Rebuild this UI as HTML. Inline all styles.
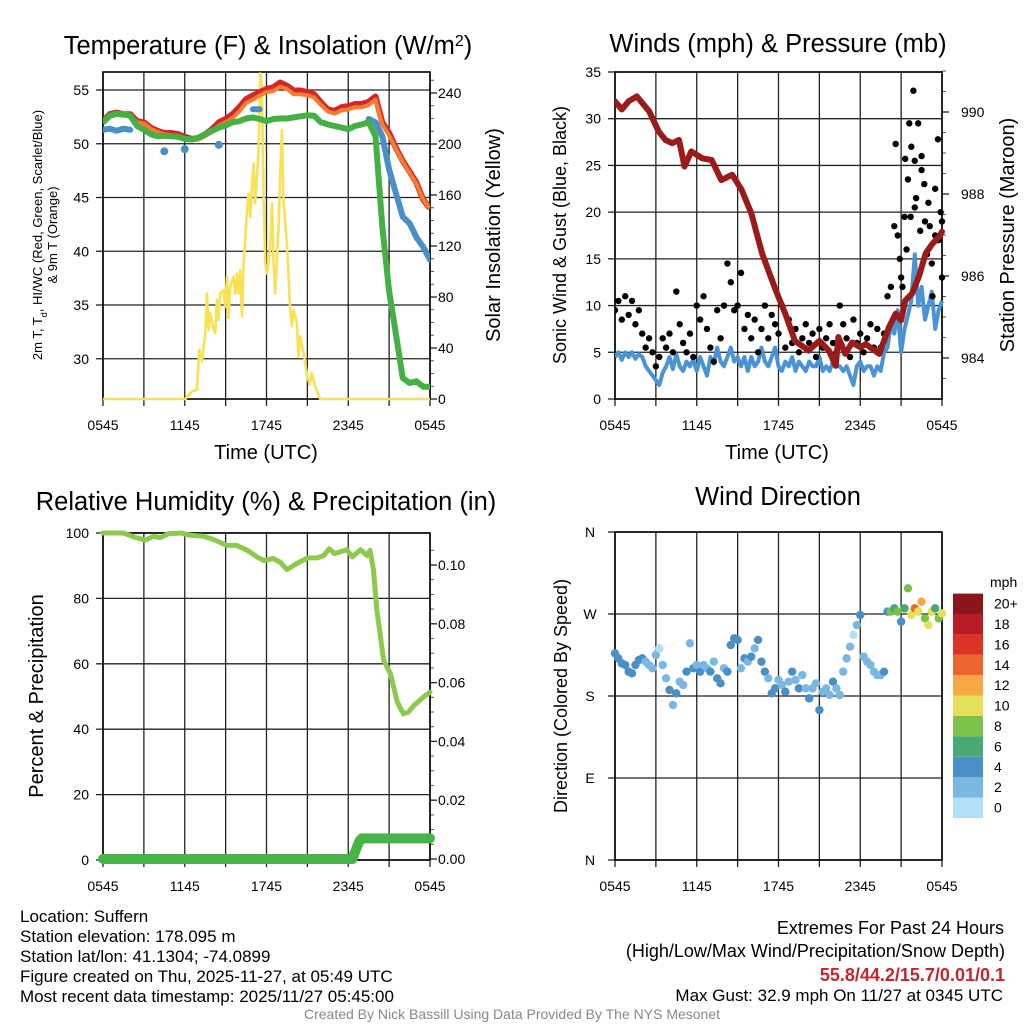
<!DOCTYPE html>
<html><head><meta charset="utf-8"><style>
html,body{margin:0;padding:0;background:#fff;}
svg{display:block;font-family:"Liberation Sans",Arial,sans-serif;}
</style></head><body>
<svg id="chart" width="1024" height="1024" viewBox="0 0 1024 1024">
<rect width="1024" height="1024" fill="#fff"/>
<text x="268" y="54" font-size="25.5" text-anchor="middle">Temperature (F) &amp; Insolation (W/m<tspan baseline-shift="super" font-size="16">2</tspan>)</text>
<text x="778" y="52" font-size="25.5" text-anchor="middle">Winds (mph) &amp; Pressure (mb)</text>
<text x="266" y="510" font-size="25.5" text-anchor="middle">Relative Humidity (%) &amp; Precipitation (in)</text>
<text x="778" y="505" font-size="25.5" text-anchor="middle">Wind Direction</text>
<text x="266" y="459" font-size="20" text-anchor="middle">Time (UTC)</text>
<text x="777" y="459" font-size="20" text-anchor="middle">Time (UTC)</text>
<g font-size="13" text-anchor="middle">
<text transform="translate(42,235) rotate(-90)">2m T, T<tspan font-size="9" baseline-shift="sub">d</tspan>, HI/WC (Red, Green, Scarlet/Blue)</text>
<text transform="translate(57,235) rotate(-90)">&amp; 9m T (Orange)</text>
</g>
<text transform="translate(500,235) rotate(-90)" font-size="20" text-anchor="middle">Solar Insolation (Yellow)</text>
<text transform="translate(566,235) rotate(-90)" font-size="18" text-anchor="middle">Sonic Wind &amp; Gust (Blue, Black)</text>
<text transform="translate(1014,235) rotate(-90)" font-size="20" text-anchor="middle">Station Pressure (Maroon)</text>
<text transform="translate(43,696) rotate(-90)" font-size="20" text-anchor="middle">Percent &amp; Precipitation</text>
<text transform="translate(567,696) rotate(-90)" font-size="18" text-anchor="middle">Direction (Colored By Speed)</text>
<text x="990" y="587" font-size="14">mph</text>
<g font-size="17">
<text x="20" y="922">Location: Suffern</text>
<text x="20" y="942">Station elevation: 178.095 m</text>
<text x="20" y="962">Station lat/lon: 41.1304; -74.0899</text>
<text x="20" y="982">Figure created on Thu, 2025-11-27, at 05:49 UTC</text>
<text x="20" y="1002">Most recent data timestamp: 2025/11/27 05:45:00</text>
</g>
<g font-size="18" text-anchor="end">
<text x="1004" y="934">Extremes For Past 24 Hours</text>
<text x="1005" y="957">(High/Low/Max Wind/Precipitation/Snow Depth)</text>
<text x="1005" y="981" font-weight="bold" fill="#c0282d">55.8/44.2/15.7/0.01/0.1</text>
<text x="1003" y="1001" font-size="17">Max Gust: 32.9 mph On 11/27 at 0345 UTC</text>
</g>
<text x="512" y="1019" font-size="14" fill="#888" text-anchor="middle">Created By Nick Bassill Using Data Provided By The NYS Mesonet</text>
</svg>
<script>
// ---------- data ----------
const hoursHalf = [0,0.5,1,1.5,2,2.5,3,3.5,4,4.5,5,5.5,6,6.5,7,7.5,8,8.5,9,9.5,10,10.5,11,11.5,12,12.5,13,13.5,14,14.5,15,15.5,16,16.5,17,17.5,18,18.5,19,19.5,20,20.5,21,21.5,22,22.5,23,23.5,24];
const tempRed = [52.1,52.75,52.9,52.75,52.75,52.1,52.0,51.5,51.2,51.0,51.0,50.9,50.65,50.45,50.55,50.9,51.35,52.0,52.3,52.75,53.4,54.15,54.5,54.8,55.1,55.25,55.7,55.4,54.95,54.95,54.8,54.6,53.85,53.2,53.05,53.4,53.5,53.7,53.7,53.9,54.4,52.0,51.0,49.6,48.4,47.4,46.4,44.8,44.0];
const temp9m = [51.9,52.5,52.7,52.6,52.6,52.0,51.9,51.4,51.1,50.9,50.8,50.7,50.5,50.3,50.4,50.7,51.1,51.7,52.0,52.4,53.0,53.8,54.1,54.5,54.8,54.9,55.3,55.1,54.6,54.6,54.5,54.3,53.6,53.0,52.8,53.1,53.2,53.4,53.4,53.6,54.1,51.8,50.8,49.5,48.3,47.3,46.3,44.8,44.0];
const dewGreen = [52.0,52.6,52.8,52.75,52.6,51.65,51.3,50.9,50.7,50.75,50.7,50.65,50.45,50.4,50.55,50.9,51.2,51.5,51.7,52.0,52.1,52.35,52.45,52.3,52.1,52.3,52.35,52.35,52.45,52.55,52.65,52.6,52.0,51.8,51.65,51.5,51.35,51.65,51.8,52.0,50.7,42.3,36.3,32.3,28.2,27.75,27.9,27.4,27.4];
const windChill = [51.3,51.4,51.2,51.4,51.3,null,null,null,null,49.3,null,null,49.5,null,null,null,null,49.9,null,null,null,null,53.2,53.2,null,null,null,null,null,null,null,null,null,null,null,null,null,null,null,52.3,52.0,50.7,47.6,45.4,43.2,42.6,41.3,40.4,39.2];
const solarHours = [0,6.04,6.53,6.89,7.07,7.26,7.51,7.63,7.75,7.87,8.12,8.24,8.36,8.48,8.61,8.85,8.97,9.10,9.22,9.34,9.58,9.71,9.83,9.95,10.07,10.2,10.32,10.56,10.68,10.81,10.93,11.05,11.17,11.3,11.42,11.54,11.66,11.78,11.91,12.03,12.15,12.27,12.4,12.52,12.64,12.76,12.89,13.0,13.13,13.25,13.5,13.74,13.86,13.99,14.23,14.35,14.47,14.72,14.96,15.16,15.33,15.57,15.94,24];
const solarValues = [0,0,6,7.3,38.6,29.5,51.4,82.8,54.3,67.4,54.3,51.7,77.8,62.1,82.8,85.4,72.3,95.8,63.4,88.1,95.8,82.8,98.4,82.8,101,64.8,106.3,145.4,161,142.8,166.5,184.8,153.5,174.4,195.3,255.4,245,161.4,106.3,98.4,106.3,119.3,153.3,106.3,82.8,109,135,174.4,210.9,156.1,122.2,70,57,70,59.5,33.4,49.1,36,20.4,11.2,20.4,9.9,0,0];
const pressHours = [0,0.5,1,1.6,2.2,2.5,3.2,3.7,4.2,4.7,5.1,5.6,6.4,7.1,7.8,8.6,9.3,10,10.8,11.8,12.5,13.2,14.2,15,15.7,16.2,16.4,16.9,17.4,18,18.4,19.4,20.1,20.6,21,21.3,21.8,22.3,22.8,23.3,23.8,24];
const pressValues = [990.26,990.06,990.26,990.38,990.14,990.02,989.53,989.32,989.24,989.32,988.67,989.04,988.87,988.83,988.34,988.47,988.10,987.53,986.55,985.65,985.08,984.42,984.18,984.42,984.18,983.81,984.51,984.10,984.38,984.26,984.34,984.10,984.75,985.08,984.92,985.40,985.57,985.98,986.55,986.79,986.96,987.08];
const windSpeed = [4.5,5,4.2,5,4.5,5,4.3,4.8,4.5,3.5,3,2.5,2,1.5,2.8,3.5,4.5,3.2,4.8,3.5,3,4,3.5,4.2,3,4.5,3.5,2.5,4.5,3.8,5.5,4,3.5,4.5,5.5,4,4.5,3.5,4.5,3,4.5,3.5,4,5.5,4,3.5,4.5,5.5,3.5,3,4,3.5,4.5,3,4,3.5,3,4,3.5,3.5,4.5,3,3.5,3,4,3.5,3.5,3,3.5,2.5,1.5,3.5,4,3,3.5,3.5,2.5,3.5,3,5,5.5,8,7,9.5,5,7.5,9,10.5,15.5,10,12,8.5,10,11.5,7.5,9.5,10.5];
const windGust = [9.5,10.5,8.5,11,9,10.5,8,9.5,7,5.5,6.5,5,3.5,4.5,6.5,5.5,7,5,11.5,8,6,5,7,4.5,10,8.5,11,7.5,5.5,4,9.5,6.5,10,14.5,12.5,9.5,10,13.5,7.5,9,6.5,8.5,5,7.5,10,6.5,9,8,7,10,5.5,8.5,6,7.5,5,6.5,8,6,7,4.5,7.5,5.5,6.5,8,6,5,10,8,6.5,4.5,8.5,6,7,5,6.5,8,5.5,7.5,5.5,7,11,12,18.5,17.5,13,19.5,23.5,27,20.5,29.5,24.5,19,21,14.5,22.5,17,19];
const gustExtraHours = [20.6,20.9,21.1,21.3,21.4,21.6,21.7,21.9,22.0,22.1,22.4,22.5,22.7,22.9,23.1,23.3,23.5,23.7,23.9,24];
const gustExtraValues = [27.3,15,12,25.7,16,29.5,19.5,33,25.5,21.5,18,26,23,15.5,18.5,11,17.5,27.8,20,13];
const windDir = [226.8,221.3,215.8,214.0,206.7,204.9,214.0,219.5,221.3,217.7,214.0,210.4,225.0,232.3,214.0,199.4,186.6,170.1,182.9,195.7,192.1,206.7,237.8,210.4,214.0,206.7,214.0,210.4,206.7,217.7,199.4,193.9,210.4,206.7,236.0,243.3,241.5,210.4,221.3,217.7,223.2,232.3,241.5,217.7,206.7,199.4,182.9,188.4,197.6,192.1,184.7,195.7,206.7,197.6,188.4,203.0,188.4,177.4,188.4,193.9,164.6,184.7,188.4,181.1,195.7,188.4,181.1,206.7,221.3,234.1,247.0,257.9,268.9,223.2,217.7,214.0,206.7,203.0,203.0,206.7,272.6,272.6,276.2,272.6,261.6,276.2,298.2,268.9,276.2,272.6,283.5,265.2,257.9,272.6,276.2,265.2,270.7];
const rhHours = [0,1.5,2.25,3.1,3.7,4.2,4.8,5.7,6.4,7.4,8.1,9.1,9.8,10.6,11.3,11.8,12.5,13,13.5,14.2,15,15.7,16.2,16.6,17,17.9,18.3,18.9,19.4,19.6,19.85,20.1,20.6,21.1,21.6,22.05,22.4,22.8,23.5,24];
const rhValues = [100,100,98.8,97.8,99,98.6,99.8,100,99.3,99,98,96.2,96.2,94.7,92.7,91.6,92.2,91.1,88.8,90.6,92.4,92.4,93.1,95.2,93.7,94.9,92.7,94.9,93.1,94.7,88.6,76.3,61,56.9,48.3,44.7,45.2,47.2,49.8,51.3];
const precipHours = [0,18.3,18.8,19.0,24];
const precipValues = [0,0,0.006,0.007,0.007];
const xTickLabels = ['0545','1145','1745','2345','0545'];
const tempTicks = [30,35,40,45,50,55];
const solarTicks = [0,40,80,120,160,200,240];
const windTicks = [0,5,10,15,20,25,30,35];
const pressTicks = [984,986,988,990];
const rhTicks = [0,20,40,60,80,100];
const precipTicks = [0,0.02,0.04,0.06,0.08,0.10];
const dirTicks = [0,90,180,270,360];
const dirLabels = ['N','E','S','W','N'];
const speedBinLabels = ['0','2','4','6','8','10','12','14','16','18','20+'];
const speedColors = ['#b3e0f7','#7ab8e3','#4a8fc6','#4aa874','#7cc24a','#e4e05a','#f6a843','#ee6530','#dc3328','#b81c24','#8b1518'];

// ---------- helpers ----------
const NS = 'http://www.w3.org/2000/svg';
const svg = document.getElementById('chart');
function mk(parent, tag, attrs, name) {
  const el = document.createElementNS(NS, tag);
  for (const k in attrs) el.setAttribute(k, attrs[k]);
  
  
  parent.appendChild(el);
  return el;
}
function linePath(xs, ys, sx, sy) {
  let d = '', pen = false;
  for (let i = 0; i < xs.length; i++) {
    if (ys[i] === null) { pen = false; continue; }
    d += (pen ? 'L' : 'M') + sx(xs[i]).toFixed(1) + ',' + sy(ys[i]).toFixed(1);
    pen = true;
  }
  return d;
}
function quarterHours(n) { const a = []; for (let i = 0; i < n; i++) a.push(i * 0.25); return a; }

function frame(g, P, sy, yTicks, yFmt, name, ry, rTicks, rFmt, rMinor) {
  const gg = mk(g, 'g', {}, name + '-axes');
  yTicks.forEach((v, i) => {
    const y = sy(v);
    const gl = mk(gg, 'line', {x1: P.x0, x2: P.x1, y1: y, y2: y, stroke: '#222', 'stroke-width': 1.3}, name + '-hgrid');
    const tk = mk(gg, 'line', {x1: P.x0 - 7, x2: P.x0, y1: y, y2: y, stroke: '#222', 'stroke-width': 1.3}, name + '-ytick');
    const lb = mk(gg, 'text', {x: P.x0 - 14, y: y + 5, 'font-size': 14, 'text-anchor': P.lblAnchor || 'end'}, name + '-ytick-label');
    if (P.lblX) lb.setAttribute('x', P.lblX);
    lb.textContent = yFmt(v, i);
  });
  for (let h = 0; h <= 24; h += 3) {
    const x = P.x0 + h * (P.x1 - P.x0) / 24;
    const vl = mk(gg, 'line', {x1: x, x2: x, y1: P.y0, y2: P.y1, stroke: '#222', 'stroke-width': 1.3}, name + '-vgrid');
    const tk = mk(gg, 'line', {x1: x, x2: x, y1: P.y1, y2: P.y1 + 7, stroke: '#222', 'stroke-width': 1.3}, name + '-xtick');
  }
  xTickLabels.forEach((t, i) => {
    const x = P.x0 + i * 6 * (P.x1 - P.x0) / 24;
    const lb = mk(gg, 'text', {x: x, y: P.y1 + 31, 'font-size': 14, 'text-anchor': 'middle'}, name + '-xtick-label');
    lb.textContent = t;
  });
  if (ry) {
    rMinor.forEach(v => {
      const y = ry(v);
      const mt = mk(gg, 'line', {x1: P.x1, x2: P.x1 + 4, y1: y, y2: y, stroke: '#555', 'stroke-width': 1}, name + '-right-minor-tick');
    });
    rTicks.forEach(v => {
      const y = ry(v);
      const tk = mk(gg, 'line', {x1: P.x1, x2: P.x1 + 7, y1: y, y2: y, stroke: '#222', 'stroke-width': 1.3}, name + '-right-tick');
      const lb = mk(gg, 'text', {x: P.x1 + P.rOff, y: y + 5, 'font-size': 14}, name + '-right-tick-label');
      lb.textContent = rFmt(v);
    });
  }
  const fr = mk(gg, 'rect', {x: P.x0, y: P.y0, width: P.x1 - P.x0, height: P.y1 - P.y0, fill: 'none', stroke: '#000', 'stroke-width': 1.6}, name + '-plot-frame');
  return gg;
}

// ---------- Panel 1 ----------
const P1 = {x0: 103, x1: 430, y0: 72, y1: 399, rOff: 8};
const sx1 = h => P1.x0 + h * (P1.x1 - P1.x0) / 24;
const sy1 = v => 90 + (55 - v) * 10.75;
const sySolar = s => 399 - s * 1.275;
const g1 = mk(svg, 'g', {}, 'temperature-panel');
const solarMinor = []; for (let s = 0; s <= 250; s += 10) solarMinor.push(s);
frame(g1, P1, sy1, tempTicks, v => String(v), 'temperature', sySolar, solarTicks, v => String(v), solarMinor);
const clip1 = mk(svg, 'clipPath', {id: 'clip1'}, 'temperature-clip');
const clipR1 = mk(clip1, 'rect', {x: P1.x0, y: P1.y0, width: P1.x1 - P1.x0, height: P1.y1 - P1.y0 + 2}, 'temperature-clip-rect');
const s1 = mk(g1, 'g', {'clip-path': 'url(#clip1)'}, 'temperature-series');
const solarLine = mk(s1, 'path', {d: linePath(solarHours, solarValues, sx1, sySolar), fill: 'none', stroke: '#f9e154', 'stroke-width': 2.6, 'stroke-linejoin': 'round'}, 'solar-insolation-line');
const chillLine = mk(s1, 'path', {d: linePath(hoursHalf, windChill, sx1, sy1), fill: 'none', stroke: '#4a8fc6', 'stroke-width': 6, 'stroke-linecap': 'round', 'stroke-linejoin': 'round'}, 'wind-chill-line');
windChill.forEach((v, i) => {
  if (v !== null && (i === 0 || windChill[i - 1] === null) && (i === windChill.length - 1 || windChill[i + 1] === null)) {
    const c = mk(s1, 'circle', {cx: sx1(hoursHalf[i]), cy: sy1(v), r: 4, fill: '#4a8fc6'}, 'wind-chill-point');
  }
});
const redLine = mk(s1, 'path', {d: linePath(hoursHalf, tempRed, sx1, sy1), fill: 'none', stroke: '#d62728', 'stroke-width': 6, 'stroke-linejoin': 'round'}, 'temperature-2m-line');
const orangeLine = mk(s1, 'path', {d: linePath(hoursHalf, temp9m, sx1, sy1), fill: 'none', stroke: '#f47d30', 'stroke-width': 4, 'stroke-linejoin': 'round'}, 'temperature-9m-line');
const greenLine = mk(s1, 'path', {d: linePath(hoursHalf, dewGreen, sx1, sy1), fill: 'none', stroke: '#45b044', 'stroke-width': 6, 'stroke-linejoin': 'round'}, 'dewpoint-line');

// ---------- Panel 2 ----------
const P2 = {x0: 615, x1: 942, y0: 72, y1: 399, rOff: 19};
const sx2 = h => P2.x0 + h * (P2.x1 - P2.x0) / 24;
const sy2 = v => 399 - v * 9.343;
const syP = p => 112 + (990 - p) * 41;
const g2 = mk(svg, 'g', {}, 'winds-panel');
const pressMinor = []; for (let p = 983.5; p <= 991; p += 0.5) pressMinor.push(p);
frame(g2, P2, sy2, windTicks, v => String(v), 'winds', syP, pressTicks, v => String(v), pressMinor);
const clip2 = mk(svg, 'clipPath', {id: 'clip2'}, 'winds-clip');
const clipR2 = mk(clip2, 'rect', {x: P2.x0, y: P2.y0, width: P2.x1 - P2.x0 + 4, height: P2.y1 - P2.y0}, 'winds-clip-rect');
const s2 = mk(g2, 'g', {'clip-path': 'url(#clip2)'}, 'winds-series');
const qh = quarterHours(windSpeed.length);
const windLine = mk(s2, 'path', {d: linePath(qh, windSpeed, sx2, sy2), fill: 'none', stroke: '#4a93d4', 'stroke-width': 4, 'stroke-linejoin': 'round'}, 'sonic-wind-line');
windGust.forEach((v, i) => {
  const c = mk(s2, 'circle', {cx: sx2(qh[i]), cy: sy2(v), r: 3.2, fill: '#000'}, 'gust-point');
});
gustExtraValues.forEach((v, i) => {
  const c = mk(s2, 'circle', {cx: sx2(gustExtraHours[i]), cy: sy2(v), r: 3.2, fill: '#000'}, 'gust-point');
});
const pressLine = mk(s2, 'path', {d: linePath(pressHours, pressValues, sx2, syP), fill: 'none', stroke: '#9b1b1b', 'stroke-width': 6, 'stroke-linejoin': 'round', 'stroke-linecap': 'round'}, 'station-pressure-line');

// ---------- Panel 3 ----------
const P3 = {x0: 103, x1: 430, y0: 533, y1: 860, rOff: 8};
const sx3 = h => P3.x0 + h * (P3.x1 - P3.x0) / 24;
const sy3 = v => 860 - v * 3.27;
const syPr = p => 859 - p * 2940;
const g3 = mk(svg, 'g', {}, 'humidity-panel');
const precipMinor = []; for (let p = 0; p <= 0.11; p += 0.005) precipMinor.push(p);
frame(g3, P3, sy3, rhTicks, v => String(v), 'humidity', syPr, precipTicks, v => v.toFixed(2), precipMinor);
const rhLine = mk(g3, 'path', {d: linePath(rhHours, rhValues, sx3, sy3), fill: 'none', stroke: '#8dc94d', 'stroke-width': 5, 'stroke-linejoin': 'round', 'stroke-linecap': 'round'}, 'relative-humidity-line');
const prLine = mk(g3, 'path', {d: linePath(precipHours, precipValues, sx3, syPr), fill: 'none', stroke: '#46b446', 'stroke-width': 10, 'stroke-linejoin': 'round', 'stroke-linecap': 'round'}, 'precipitation-line');

// ---------- Panel 4 ----------
const P4 = {x0: 615, x1: 942, y0: 532, y1: 860, lblX: 590, lblAnchor: 'middle'};
const sx4 = h => P4.x0 + h * (P4.x1 - P4.x0) / 24;
const sy4 = d => 860 - d * (328 / 360);
const g4 = mk(svg, 'g', {}, 'wind-direction-panel');
frame(g4, P4, sy4, dirTicks, (v, i) => dirLabels[i], 'direction', null);
windDir.forEach((d, i) => {
  const bin = Math.min(10, Math.floor(windSpeed[i] / 2));
  const c = mk(g4, 'circle', {cx: sx4(qh[i]), cy: sy4(d), r: 4.2, fill: speedColors[bin]}, 'direction-point');
});
const cb = mk(svg, 'g', {}, 'speed-colorbar');
speedColors.forEach((col, i) => {
  const y = 818 - (i + 1) * 20.4;
  const r = mk(cb, 'rect', {x: 953, y: y, width: 30, height: 20.4, fill: col}, 'colorbar-box');
  const t = mk(cb, 'text', {x: 994, y: y + 15, 'font-size': 14}, 'colorbar-label');
  t.textContent = speedBinLabels[i];
});
</script>
</body></html>
